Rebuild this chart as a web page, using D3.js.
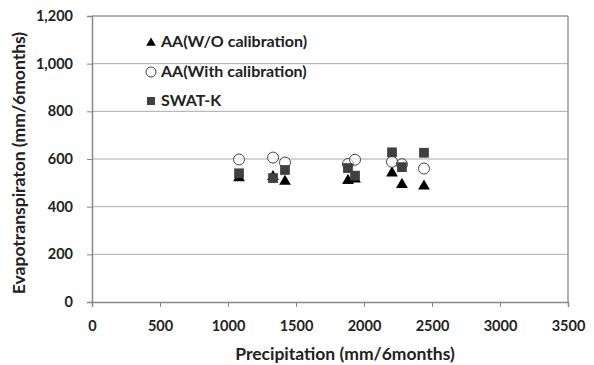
<!DOCTYPE html>
<html><head><meta charset="utf-8">
<script src="https://cdn.jsdelivr.net/npm/d3@7"></script>
<style>body{margin:0;background:#fff;} text{font-family:"Lato","Open Sans",sans-serif;font-weight:bold;fill:#222;}</style>
</head><body><svg id="c" width="594" height="365"></svg>
<script>
const precip = [1081, 1331, 1419, 1882, 1934, 2206, 2279, 2441];
const aaWO   = [525, 530, 510, 514, 520, 545, 497, 490];
const aaWith = [598, 606, 585, 579, 597, 588, 578, 560];
const swatK  = [540, 520, 554, 562, 530, 628, 566, 626];
const xTicks = [0,500,1000,1500,2000,2500,3000,3500];
const yTicks = [0,200,400,600,800,1000,1200];
const legendLabels = ["AA(W/O calibration)", "AA(With calibration)", "SWAT-K"];

const svg = d3.select("#c");
const L=92, R=568, T=16, B=302;
const x = d3.scaleLinear().domain([0,3500]).range([L,R]);
const y = d3.scaleLinear().domain([0,1200]).range([B,T]);

svg.append("g").selectAll("line").data(yTicks.filter(d=>d>0)).join("line")
  .attr("x1",L).attr("x2",R).attr("y1",d=>y(d)).attr("y2",d=>y(d))
  .attr("stroke",d=>d===1200?"#666":"#aaa").attr("stroke-width",1);
svg.append("line").attr("x1",R).attr("x2",R).attr("y1",T).attr("y2",B).attr("stroke","#999").attr("stroke-width",1.5);

const yAxis = svg.append("g").attr("transform",`translate(${L},0)`)
  .call(d3.axisLeft(y).tickValues(yTicks).tickSize(5).tickPadding(14).tickFormat(d3.format(",")));
const xAxis = svg.append("g").attr("transform",`translate(0,${B})`)
  .call(d3.axisBottom(x).tickValues(xTicks).tickSize(5).tickPadding(14).tickFormat(d3.format("d")));
[yAxis,xAxis].forEach(a=>{
  a.select(".domain").attr("stroke","#888").attr("stroke-width",1.5);
  a.selectAll(".tick line").attr("stroke","#888");
  a.selectAll("text").style("font-size","14.5px").attr("fill","#222");
});

svg.append("text").attr("x",345).attr("y",360).attr("text-anchor","middle")
  .style("font-size","17.5px").text("Precipitation (mm/6months)");
svg.append("text").attr("transform",`translate(25,${163}) rotate(-90)`).attr("text-anchor","middle")
  .style("font-size","17.5px").text("Evapotranspiraton  (mm/6months)");

const tri = d3.symbol().type(d3.symbolTriangle).size(60);
const sq = d3.symbol().type(d3.symbolSquare).size(95);

const pts = svg.append("g");
pts.selectAll(".t").data(precip).join("path").attr("class","t")
  .attr("d",tri).attr("transform",(d,i)=>`translate(${x(d)},${y(aaWO[i])+1})`).attr("fill","#000");
pts.selectAll(".c").data(precip).join("circle").attr("class","c")
  .attr("cx",d=>x(d)).attr("cy",(d,i)=>y(aaWith[i])).attr("r",5.5)
  .attr("fill","#fff").attr("fill-opacity",0.6).attr("stroke","#444").attr("stroke-width",1);
pts.selectAll(".s").data(precip).join("path").attr("class","s")
  .attr("d",sq).attr("transform",(d,i)=>`translate(${x(d)},${y(swatK[i])})`).attr("fill","#404040");

const lg = svg.append("g");
const ly = [42, 72, 101];
lg.append("path").attr("d",d3.symbol().type(d3.symbolTriangle).size(40)).attr("transform",`translate(151,${ly[0]+1})`).attr("fill","#000");
lg.append("circle").attr("cx",151).attr("cy",ly[1]).attr("r",5).attr("fill","#fff").attr("stroke","#444");
lg.append("path").attr("d",d3.symbol().type(d3.symbolSquare).size(64)).attr("transform",`translate(151,${ly[2]})`).attr("fill","#404040");
lg.selectAll("text").data(legendLabels).join("text")
  .attr("x",161).attr("y",(d,i)=>ly[i]+5).style("font-size","16px").text(d=>d);
</script></body></html>
